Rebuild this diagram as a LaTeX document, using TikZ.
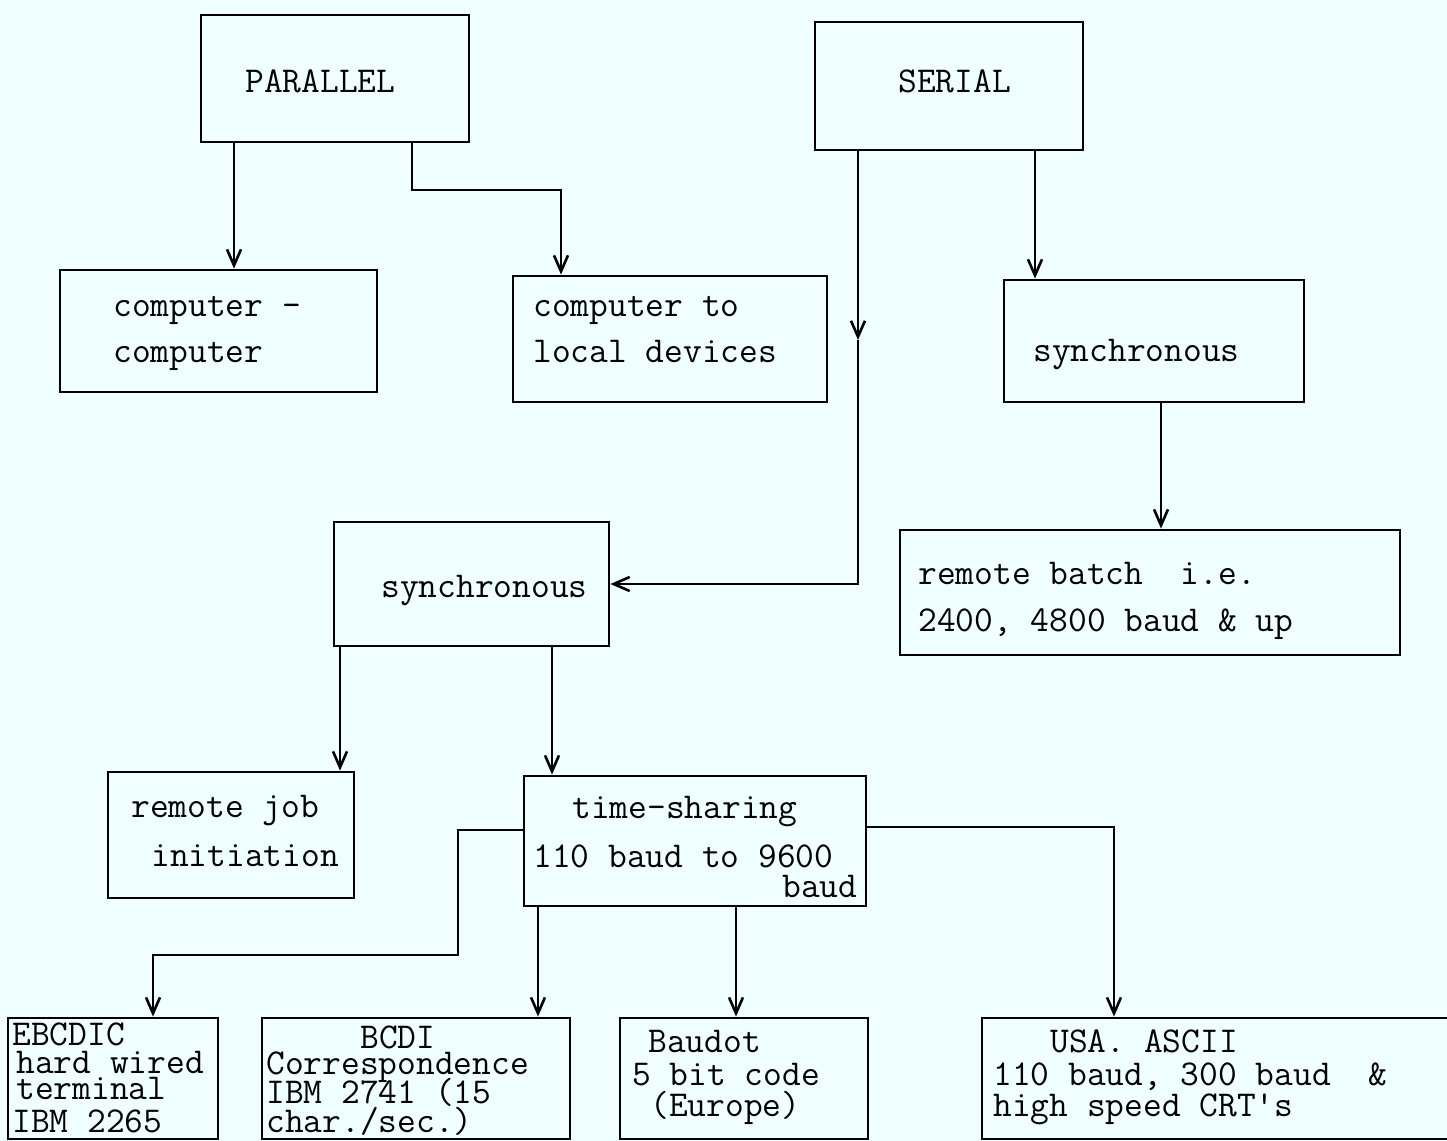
\documentclass[tikz,border=0pt]{standalone}
\usepackage{fontspec}
\usetikzlibrary{arrows.meta,fit,calc}
\definecolor{paper}{RGB}{240,255,255}
\tikzset{
  box/.style={draw=black, line width=1.4pt, inner sep=0pt, fit={#1}},
  txt/.style={anchor=base west, inner sep=0pt, font=\ttfamily\fontsize{18.2}{20}\selectfont},
  arr/.style={draw=black, line width=1.4pt, -{Straight Barb[length=8pt,width=7pt,line width=1.3pt]}}
}
\begin{document}
\begin{tikzpicture}[x=0.5pt,y=-0.5pt]
\fill[paper] (0,0) rectangle (1447,1141);
\useasboundingbox (0,0) rectangle (1447,1141);
\clip (0,0) rectangle (1447,1141);
% boxes
\node[box={(201,15) (469,142)}] (par) {};
\node[box={(815,22) (1083,150)}] (ser) {};
\node[box={(60,270) (377,392)}] (cc) {};
\node[box={(513,276) (827,402)}] (cl) {};
\node[box={(1004,280) (1304,402)}] (sr) {};
\node[box={(900,530) (1400,655)}] (rb) {};
\node[box={(334,522) (609,646)}] (sm) {};
\node[box={(108,772) (354,898)}] (rj) {};
\node[box={(524,776) (866,906)}] (ts) {};
\node[box={(8,1018) (218,1139)}] (eb) {};
\node[box={(262,1018) (570,1139)}] (bc) {};
\node[box={(620,1018) (868,1139)}] (bd) {};
\node[box={(982,1018) (1455,1139)}] (us) {};
% texts
\node[txt] (t1) at (245,92) {PARALLEL};
\node[txt] (t2) at (898,92) {SERIAL};
\node[txt] (t3) at (113,316) {computer -};
\node[txt] (t4) at (113,362) {computer};
\node[txt] (t5) at (533,316) {computer to};
\node[txt] (t6) at (533,362) {local devices};
\node[txt] (t7) at (1033,361) {synchronous};
\node[txt] (t8) at (918,584) {remote batch\ \ i.e.};
\node[txt] (t9) at (918,631) {2400, 4800 baud \& up};
\node[txt] (t10) at (381,597) {synchronous};
\node[txt] (t11) at (131,817) {remote job};
\node[txt] (t12) at (151,866) {initiation};
\node[txt] (t13) at (572,818) {time-sharing};
\node[txt] (t14) at (533,867) {110 baud to 9600};
\node[txt] (t15) at (782,897) {baud};
\node[txt] (t16) at (12,1045) {EBCDIC};
\node[txt] (t17) at (16,1073) {hard wired};
\node[txt] (t18) at (16,1099) {terminal};
\node[txt] (t19) at (12,1132) {IBM 2265};
\node[txt] (t20) at (360,1048) {BCDI};
\node[txt] (t21) at (266,1074) {Correspondence};
\node[txt] (t22) at (266,1103) {IBM 2741 (15};
\node[txt] (t23) at (266,1132) {char./sec.)};
\node[txt] (t24) at (648,1052) {Baudot};
\node[txt] (t25) at (632,1085) {5 bit code};
\node[txt] (t26) at (650,1116) {(Europe)};
\node[txt] (t27) at (1050,1052) {USA. ASCII};
\node[txt] (t28) at (993,1085) {110 baud, 300 baud\ \ \&};
\node[txt] (t29) at (993,1116) {high speed CRT's};
% guide coordinates
\coordinate (xA) at (234,0);
\coordinate (xB) at (412,0);
\coordinate (xC) at (561,0);
\coordinate (xD) at (1035,0);
\coordinate (xE) at (858,0);
\coordinate (xF) at (1161,0);
\coordinate (xG) at (340,0);
\coordinate (xH) at (552,0);
\coordinate (xI) at (458,0);
\coordinate (xJ) at (153,0);
\coordinate (xK) at (538,0);
\coordinate (xL) at (736,0);
\coordinate (xM) at (1114,0);
\coordinate (y1) at (0,190);
\coordinate (y2) at (0,340);
\coordinate (y3) at (0,830);
\coordinate (y4) at (0,955);
\coordinate (y5) at (0,827);
% connectors
\draw[arr] (par.south -| xA) -- (cc.north -| xA);
\draw[arr] (par.south -| xB) -- (xB |- y1) -| (cl.north -| xC);
\draw[arr] (ser.south -| xD) -- (sr.north -| xD);
\draw[arr] (ser.south -| xE) -- (xE |- y2);
\draw[arr] (xE |- y2) |- (sm.east);
\draw[arr] (sr.south -| xF) -- (rb.north -| xF);
\draw[arr] (sm.south -| xG) -- (rj.north -| xG);
\draw[arr] (sm.south -| xH) -- (ts.north -| xH);
\draw[arr] (ts.west |- y3) -| (xI |- y4) -| (eb.north -| xJ);
\draw[arr] (ts.south -| xK) -- (bc.north -| xK);
\draw[arr] (ts.south -| xL) -- (bd.north -| xL);
\draw[arr] (ts.east |- y5) -| (us.north -| xM);
\end{tikzpicture}
\end{document}
